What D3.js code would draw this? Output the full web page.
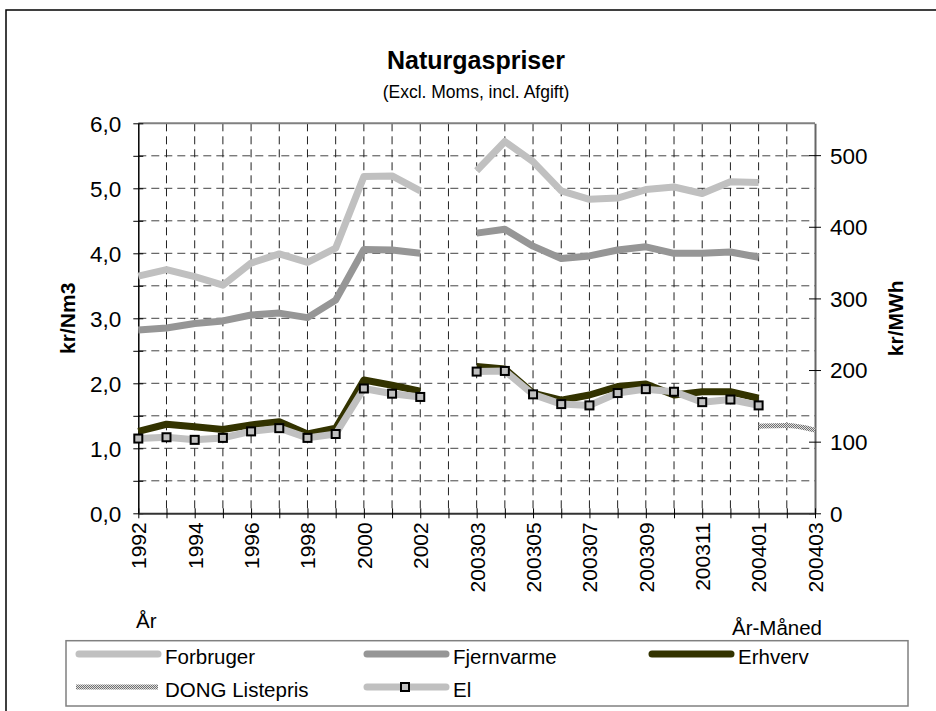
<!DOCTYPE html>
<meta charset="utf-8">
<style>
  body { margin: 0; background: #fff; }
  svg text { font-family: "Liberation Sans", Arial, sans-serif; fill: #000; }
</style>
<script src="https://cdnjs.cloudflare.com/ajax/libs/d3/7.8.5/d3.min.js"></script>
<div id="chart"></div>
<script>
// categories on the x axis (index 11 is an empty slot between the yearly and monthly parts)
const categories = ["1992","1993","1994","1995","1996","1997","1998","1999","2000","2001","2002","",
  "200303","200304","200305","200306","200307","200308","200309","200310","200311","200312","200401","200402","200403"];

// kr/Nm3, null = no value
const forbruger  = [3.65,3.75,3.64,3.51,3.85,3.99,3.86,4.08,5.18,5.19,4.96,null,
  5.27,5.72,5.41,4.96,4.83,4.85,4.98,5.02,4.92,5.10,5.09,null,null];
const fjernvarme = [2.82,2.85,2.92,2.96,3.05,3.08,3.01,3.28,4.06,4.05,4.00,null,
  4.31,4.37,4.11,3.92,3.96,4.05,4.10,4.00,4.00,4.02,3.94,null,null];
const erhverv    = [1.26,1.37,1.33,1.29,1.36,1.41,1.22,1.31,2.05,1.97,1.88,null,
  2.26,2.22,1.85,1.74,1.82,1.95,1.99,1.82,1.87,1.87,1.77,null,null];
const el         = [1.15,1.17,1.13,1.16,1.26,1.31,1.16,1.22,1.92,1.84,1.79,null,
  2.18,2.19,1.83,1.68,1.66,1.85,1.91,1.87,1.71,1.75,1.66,null,null];
const dong       = [null,null,null,null,null,null,null,null,null,null,null,null,
  null,null,null,null,null,null,null,null,null,null,1.34,1.35,1.28];

const rightTicks = [0,100,200,300,400,500];
const legendItems = ["Forbruger","Fjernvarme","Erhverv","DONG Listepris","El"];

const W = 936, H = 711;
const plot = {left: 138.3, right: 815, top: 123.3, bottom: 513.3};

const svg = d3.select("#chart").append("svg")
    .attr("width", W).attr("height", H);

const defs = svg.append("defs");
// checkered texture for DONG Listepris
const pat = defs.append("pattern").attr("id", "hatch")
    .attr("patternUnits", "userSpaceOnUse").attr("width", 2).attr("height", 2);
pat.append("rect").attr("width", 2).attr("height", 2).attr("fill", "#e0e0e0");
pat.append("rect").attr("width", 1).attr("height", 1).attr("fill", "#707070");
pat.append("rect").attr("x", 1).attr("y", 1).attr("width", 1).attr("height", 1).attr("fill", "#707070");

// chart border
svg.append("rect").attr("x", 6).attr("y", 10).attr("width", 940).attr("height", 720)
    .attr("fill", "#fff").attr("stroke", "#000").attr("stroke-width", 1.5);

// scales
const x = d3.scalePoint().domain(categories.map((c, i) => i)).range([plot.left, plot.right]);
const y = d3.scaleLinear().domain([0, 6]).range([plot.bottom, plot.top]);
const y2 = d3.scaleLinear().domain([0, 6000 / 11.02]).range([plot.bottom, plot.top]);

// grid - horizontal every 0.5
const g = svg.append("g");
g.selectAll(".hg").data(d3.range(0.5, 6, 0.5)).enter().append("line")
    .attr("x1", plot.left).attr("x2", plot.right)
    .attr("y1", d => y(d)).attr("y2", d => y(d))
    .attr("stroke", "#444").attr("stroke-width", 1).attr("stroke-dasharray", "8,5");
// grid - vertical at every category
g.selectAll(".vg").data(d3.range(1, categories.length - 1)).enter().append("line")
    .attr("x1", d => x(d)).attr("x2", d => x(d))
    .attr("y1", plot.top).attr("y2", plot.bottom)
    .attr("stroke", "#222").attr("stroke-width", 1).attr("stroke-dasharray", "8,5");

// plot frame (top grey)
svg.append("line").attr("x1", plot.left).attr("x2", plot.right).attr("y1", plot.top).attr("y2", plot.top)
    .attr("stroke", "#808080").attr("stroke-width", 2);

// left axis
const yAxis = d3.axisLeft(y).tickValues(d3.range(0, 6.01, 0.5)).tickSize(0)
    .tickFormat(d => Number.isInteger(d) ? d3.format(".1f")(d).replace(".", ",") : "");
const ya = svg.append("g").attr("transform", `translate(${plot.left},0)`).call(yAxis);
ya.select(".domain").attr("stroke", "#000").attr("stroke-width", 1.5);
ya.selectAll(".tick line").attr("x1", -5).attr("x2", 5).attr("stroke", "#000");
ya.selectAll(".tick text").attr("x", -17).attr("font-size", 22.5).attr("dy", "0.35em");

// right axis
const y2Axis = d3.axisRight(y2).tickValues(rightTicks).tickSize(0);
const ya2 = svg.append("g").attr("transform", `translate(${plot.right},0)`).call(y2Axis);
ya2.select(".domain").attr("stroke", "#666").attr("stroke-width", 2);
ya2.selectAll(".tick line").attr("x1", -6).attr("x2", 6).attr("stroke", "#000");
ya2.selectAll(".tick text").attr("x", 15).attr("font-size", 22.5).attr("dy", "0.35em");

// bottom axis
const xAxis = d3.axisBottom(x).tickSize(0)
    .tickFormat(i => i % 2 === 0 ? categories[i] : "");
const xa = svg.append("g").attr("transform", `translate(0,${plot.bottom})`).call(xAxis);
xa.select(".domain").attr("stroke", "#333").attr("stroke-width", 2);
xa.selectAll(".tick line").attr("y1", -5).attr("y2", 5).attr("stroke", "#000");
xa.selectAll(".tick text")
    .attr("font-size", 21)
    .attr("transform", "rotate(-90)")
    .attr("text-anchor", "end")
    .attr("x", -9).attr("y", 0).attr("dy", "0.35em");

// series
function drawLine(values, color, width) {
  const line = d3.line()
      .defined(d => d != null)
      .x((d, i) => x(i)).y(d => y(d));
  svg.append("path").datum(values)
      .attr("fill", "none").attr("stroke", color).attr("stroke-width", width)
      .attr("stroke-linejoin", "round").attr("d", line);
}
drawLine(forbruger, "#c0c0c0", 7);
drawLine(fjernvarme, "#969696", 7);
drawLine(erhverv, "#333300", 7);

// DONG Listepris - smooth, textured
svg.append("path").datum(dong)
    .attr("fill", "none").attr("stroke", "url(#hatch)").attr("stroke-width", 5)
    .attr("d", d3.line().defined(d => d != null).curve(d3.curveMonotoneX)
      .x((d, i) => x(i)).y(d => y(d)));

drawLine(el, "#c0c0c0", 7);
svg.selectAll(".elpt").data(el.map((v, i) => [i, v]).filter(d => d[1] != null)).enter()
  .append("rect")
    .attr("x", d => x(d[0]) - 4).attr("y", d => y(d[1]) - 4)
    .attr("width", 8).attr("height", 8)
    .attr("fill", "#c0c0c0").attr("stroke", "#000").attr("stroke-width", 2);

// titles
svg.append("text").attr("x", 476).attr("y", 69).attr("text-anchor", "middle")
    .attr("font-size", 25).attr("font-weight", "bold").text("Naturgaspriser");
svg.append("text").attr("x", 476).attr("y", 98).attr("text-anchor", "middle")
    .attr("font-size", 17.5).text("(Excl. Moms, incl. Afgift)");
svg.append("text").attr("transform", `translate(75,${(plot.top + plot.bottom) / 2}) rotate(-90)`)
    .attr("text-anchor", "middle").attr("font-size", 21).attr("font-weight", "bold").text("kr/Nm3");
svg.append("text").attr("transform", `translate(903,${(plot.top + plot.bottom) / 2}) rotate(-90)`)
    .attr("text-anchor", "middle").attr("font-size", 21).attr("font-weight", "bold").text("kr/MWh");
svg.append("text").attr("x", 136).attr("y", 628).attr("font-size", 20.5).text("År");
svg.append("text").attr("x", 822).attr("y", 635).attr("text-anchor", "end").attr("font-size", 20.5).text("År-Måned");

// legend
svg.append("rect").attr("x", 66).attr("y", 640.7).attr("width", 842).attr("height", 65.3)
    .attr("fill", "#fff").attr("stroke", "#808080").attr("stroke-width", 1.5);
const legendStyle = {
  "Forbruger":      {col: 0, row: 0, color: "#c0c0c0"},
  "Fjernvarme":     {col: 1, row: 0, color: "#969696"},
  "Erhverv":        {col: 2, row: 0, color: "#333300"},
  "DONG Listepris": {col: 0, row: 1, color: "url(#hatch)"},
  "El":             {col: 1, row: 1, color: "#c0c0c0", marker: true}
};
const colX = [76, 364, 649], rowY = [654, 687];
legendItems.forEach(name => {
  const s = legendStyle[name];
  const lx = colX[s.col], ly = rowY[s.row];
  const isDong = name === "DONG Listepris";
  svg.append("line").attr("x1", lx + (isDong ? 0 : 3)).attr("x2", lx + 82).attr("y1", ly).attr("y2", ly)
      .attr("stroke", s.color).attr("stroke-width", isDong ? 5 : 7)
      .attr("stroke-linecap", isDong ? "butt" : "round");
  if (s.marker) {
    svg.append("rect").attr("x", lx + 41 - 4).attr("y", ly - 4).attr("width", 8).attr("height", 8)
        .attr("fill", "#c0c0c0").attr("stroke", "#000").attr("stroke-width", 2);
  }
  svg.append("text").attr("x", lx + 89).attr("y", ly + 10).attr("font-size", 20.5).text(name);
});
</script>
